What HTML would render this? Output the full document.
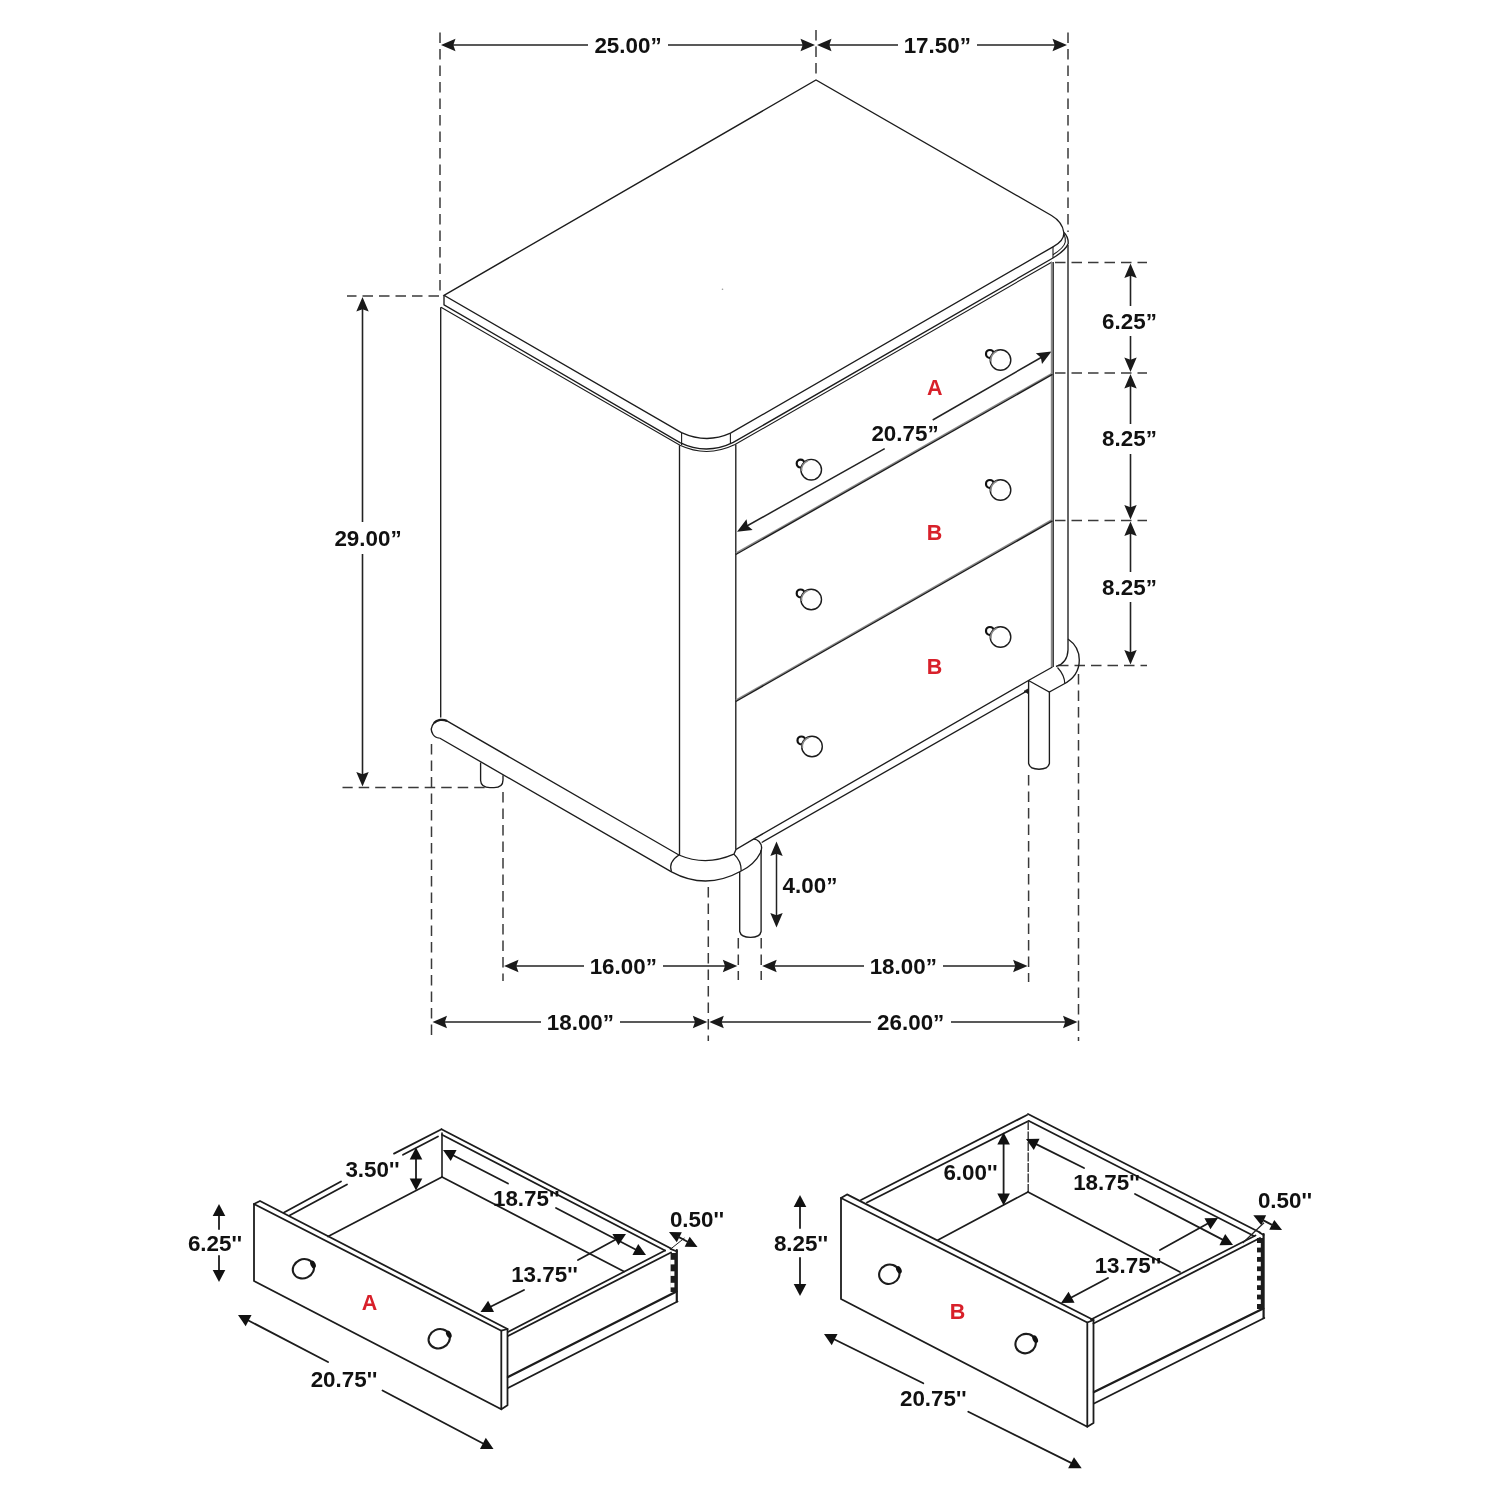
<!DOCTYPE html>
<html><head><meta charset="utf-8">
<title>Nightstand dimensions</title>
<style>
html,body{margin:0;padding:0;background:#fff;}
body{width:1500px;height:1500px;overflow:hidden;}
svg{display:block;}
text{font-family:"Liberation Sans",sans-serif;font-weight:bold;}
</style></head><body>
<svg width="1500" height="1500" viewBox="0 0 1500 1500">
<rect width="1500" height="1500" fill="#ffffff"/>
<line x1="440" y1="32.5" x2="440" y2="296" stroke="#3a3a3a" stroke-width="1.5" stroke-dasharray="10.5 6"/>
<line x1="816" y1="30" x2="816" y2="76" stroke="#3a3a3a" stroke-width="1.5" stroke-dasharray="10.5 6"/>
<line x1="1068" y1="32.5" x2="1068" y2="232" stroke="#3a3a3a" stroke-width="1.5" stroke-dasharray="10.5 6"/>
<line x1="439" y1="296" x2="347" y2="296" stroke="#3a3a3a" stroke-width="1.5" stroke-dasharray="10.5 6"/>
<line x1="1055" y1="262.5" x2="1147" y2="262.5" stroke="#3a3a3a" stroke-width="1.5" stroke-dasharray="10.5 6"/>
<line x1="1055" y1="373" x2="1147" y2="373" stroke="#3a3a3a" stroke-width="1.5" stroke-dasharray="10.5 6"/>
<line x1="1055" y1="520.5" x2="1147" y2="520.5" stroke="#3a3a3a" stroke-width="1.5" stroke-dasharray="10.5 6"/>
<line x1="1058" y1="665.5" x2="1147" y2="665.5" stroke="#3a3a3a" stroke-width="1.5" stroke-dasharray="10.5 6"/>
<line x1="484.7" y1="787.5" x2="342.5" y2="787.5" stroke="#3a3a3a" stroke-width="1.5" stroke-dasharray="10.5 6"/>
<line x1="431.5" y1="744" x2="431.5" y2="1041" stroke="#3a3a3a" stroke-width="1.5" stroke-dasharray="10.5 6"/>
<line x1="503" y1="792" x2="503" y2="981" stroke="#3a3a3a" stroke-width="1.5" stroke-dasharray="10.5 6"/>
<line x1="708.3" y1="887" x2="708.3" y2="1041" stroke="#3a3a3a" stroke-width="1.5" stroke-dasharray="10.5 6"/>
<line x1="738.3" y1="938" x2="738.3" y2="980" stroke="#3a3a3a" stroke-width="1.5" stroke-dasharray="10.5 6"/>
<line x1="761.2" y1="938" x2="761.2" y2="980" stroke="#3a3a3a" stroke-width="1.5" stroke-dasharray="10.5 6"/>
<line x1="1028.6" y1="775" x2="1028.6" y2="982" stroke="#3a3a3a" stroke-width="1.5" stroke-dasharray="10.5 6"/>
<line x1="1078.5" y1="674" x2="1078.5" y2="1041" stroke="#3a3a3a" stroke-width="1.5" stroke-dasharray="10.5 6"/>
<line x1="450" y1="45" x2="588" y2="45" stroke="#222" stroke-width="1.6" />
<line x1="668" y1="45" x2="806" y2="45" stroke="#222" stroke-width="1.6" />
<polygon points="441.00,45.00 455.50,51.20 453.30,45.00 455.50,38.80" fill="#1a1a1a"/>
<polygon points="815.00,45.00 800.50,38.80 802.70,45.00 800.50,51.20" fill="#1a1a1a"/>
<line x1="826" y1="45" x2="898" y2="45" stroke="#222" stroke-width="1.6" />
<line x1="977" y1="45" x2="1058" y2="45" stroke="#222" stroke-width="1.6" />
<polygon points="817.00,45.00 831.50,51.20 829.30,45.00 831.50,38.80" fill="#1a1a1a"/>
<polygon points="1067.00,45.00 1052.50,38.80 1054.70,45.00 1052.50,51.20" fill="#1a1a1a"/>
<line x1="513" y1="966" x2="584" y2="966" stroke="#222" stroke-width="1.6" />
<line x1="663" y1="966" x2="728.3" y2="966" stroke="#222" stroke-width="1.6" />
<polygon points="504.00,966.00 518.50,972.20 516.30,966.00 518.50,959.80" fill="#1a1a1a"/>
<polygon points="737.30,966.00 722.80,959.80 725.00,966.00 722.80,972.20" fill="#1a1a1a"/>
<line x1="771.2" y1="966" x2="864" y2="966" stroke="#222" stroke-width="1.6" />
<line x1="943" y1="966" x2="1018.5999999999999" y2="966" stroke="#222" stroke-width="1.6" />
<polygon points="762.20,966.00 776.70,972.20 774.50,966.00 776.70,959.80" fill="#1a1a1a"/>
<polygon points="1027.60,966.00 1013.10,959.80 1015.30,966.00 1013.10,972.20" fill="#1a1a1a"/>
<line x1="441.5" y1="1022" x2="541" y2="1022" stroke="#222" stroke-width="1.6" />
<line x1="620" y1="1022" x2="698.3" y2="1022" stroke="#222" stroke-width="1.6" />
<polygon points="432.50,1022.00 447.00,1028.20 444.80,1022.00 447.00,1015.80" fill="#1a1a1a"/>
<polygon points="707.30,1022.00 692.80,1015.80 695.00,1022.00 692.80,1028.20" fill="#1a1a1a"/>
<line x1="718.3" y1="1022" x2="871" y2="1022" stroke="#222" stroke-width="1.6" />
<line x1="951" y1="1022" x2="1068.5" y2="1022" stroke="#222" stroke-width="1.6" />
<polygon points="709.30,1022.00 723.80,1028.20 721.60,1022.00 723.80,1015.80" fill="#1a1a1a"/>
<polygon points="1077.50,1022.00 1063.00,1015.80 1065.20,1022.00 1063.00,1028.20" fill="#1a1a1a"/>
<line x1="362.5" y1="306" x2="362.5" y2="522" stroke="#222" stroke-width="1.6" />
<line x1="362.5" y1="554" x2="362.5" y2="777.5" stroke="#222" stroke-width="1.6" />
<polygon points="362.50,297.00 356.30,311.50 362.50,309.30 368.70,311.50" fill="#1a1a1a"/>
<polygon points="362.50,786.50 368.70,772.00 362.50,774.20 356.30,772.00" fill="#1a1a1a"/>
<line x1="1130.5" y1="272.5" x2="1130.5" y2="306" stroke="#222" stroke-width="1.6" />
<line x1="1130.5" y1="336" x2="1130.5" y2="363" stroke="#222" stroke-width="1.6" />
<polygon points="1130.50,263.50 1124.30,278.00 1130.50,275.80 1136.70,278.00" fill="#1a1a1a"/>
<polygon points="1130.50,372.00 1136.70,357.50 1130.50,359.70 1124.30,357.50" fill="#1a1a1a"/>
<line x1="1130.5" y1="383" x2="1130.5" y2="424" stroke="#222" stroke-width="1.6" />
<line x1="1130.5" y1="454" x2="1130.5" y2="510.5" stroke="#222" stroke-width="1.6" />
<polygon points="1130.50,374.00 1124.30,388.50 1130.50,386.30 1136.70,388.50" fill="#1a1a1a"/>
<polygon points="1130.50,519.50 1136.70,505.00 1130.50,507.20 1124.30,505.00" fill="#1a1a1a"/>
<line x1="1130.5" y1="530.5" x2="1130.5" y2="572" stroke="#222" stroke-width="1.6" />
<line x1="1130.5" y1="602" x2="1130.5" y2="655.5" stroke="#222" stroke-width="1.6" />
<polygon points="1130.50,521.50 1124.30,536.00 1130.50,533.80 1136.70,536.00" fill="#1a1a1a"/>
<polygon points="1130.50,664.50 1136.70,650.00 1130.50,652.20 1124.30,650.00" fill="#1a1a1a"/>
<line x1="776.5" y1="852" x2="776.5" y2="918" stroke="#222" stroke-width="1.5" />
<polygon points="776.50,841.50 770.30,856.00 776.50,853.80 782.70,856.00" fill="#1a1a1a"/>
<polygon points="776.50,927.50 782.70,913.00 776.50,915.20 770.30,913.00" fill="#1a1a1a"/>
<line x1="746" y1="526.5" x2="884.7" y2="448.7" stroke="#222" stroke-width="1.5" />
<line x1="932.7" y1="420" x2="1042" y2="357" stroke="#222" stroke-width="1.5" />
<polygon points="737.00,531.80 752.66,529.97 747.67,525.69 746.50,519.21" fill="#1a1a1a"/>
<polygon points="1051.50,351.50 1035.84,353.33 1040.83,357.61 1042.00,364.09" fill="#1a1a1a"/>
<circle cx="722.5" cy="289.3" r="0.8" fill="#999"/>
<path d="M444,295.3 L816,80 L1051.5,215.5 Q1062.5,222 1063.8,232.5 Q1064.5,240.5 1053,246.8 L730.5,433.2 Q706.5,444 681.5,432.6 Z" stroke="#1c1c1c" stroke-width="1.35" fill="none" />
<path d="M444,295.3 L444,304.8 L680,442.6 Q706.5,455.5 733.3,442.4 L1053,258 Q1066,250 1068.2,243.5 Q1068.5,237 1064,232.5" stroke="#1c1c1c" stroke-width="1.35" fill="none" />
<path d="M1053,254.7 Q1064,248 1065.3,242 Q1065.6,237.5 1064,234" stroke="#1c1c1c" stroke-width="1.1" fill="none" />
<path d="M441,307.2 L680,445.3 Q707,458 735,444.6 L1052,262" stroke="#1c1c1c" stroke-width="1.1" fill="none" />
<line x1="681.6" y1="432.6" x2="681.6" y2="445" stroke="#1c1c1c" stroke-width="1.1" />
<line x1="730.4" y1="433.2" x2="730.4" y2="443.5" stroke="#1c1c1c" stroke-width="1.1" />
<line x1="1053" y1="246.8" x2="1053" y2="258" stroke="#1c1c1c" stroke-width="1.1" />
<line x1="440.7" y1="307.2" x2="440.7" y2="717.5" stroke="#1c1c1c" stroke-width="1.35" />
<line x1="679.5" y1="445.3" x2="679.5" y2="855" stroke="#1c1c1c" stroke-width="1.35" />
<line x1="735.8" y1="444.6" x2="735.8" y2="849.5" stroke="#1c1c1c" stroke-width="1.35" />
<path d="M1068,245 L1068,650 Q1067.5,663 1056,666.5" stroke="#1c1c1c" stroke-width="1.35" fill="none" />
<line x1="1051.6" y1="262" x2="1051.6" y2="667" stroke="#8a8a8a" stroke-width="1.6" />
<line x1="1053.2" y1="262" x2="1053.2" y2="667" stroke="#1c1c1c" stroke-width="1.3" />
<line x1="735.8" y1="553.2" x2="1052.5" y2="373.09999999999997" stroke="#8a8a8a" stroke-width="1.5" />
<line x1="735.8" y1="554.5" x2="1052.5" y2="374.4" stroke="#1c1c1c" stroke-width="1.4" />
<line x1="735.8" y1="700.2" x2="1052.5" y2="519.5" stroke="#8a8a8a" stroke-width="1.5" />
<line x1="735.8" y1="701.5" x2="1052.5" y2="520.8" stroke="#1c1c1c" stroke-width="1.4" />
<circle cx="989.9" cy="353.9" r="3.9" fill="#fff" stroke="#111" stroke-width="2.2"/>
<circle cx="1000.5" cy="360" r="10.3" fill="#fff" stroke="#1c1c1c" stroke-width="1.4"/>
<path d="M990.9,361.5 A9.4,9.4 0 0 1 997.3,351.1" fill="none" stroke="#888" stroke-width="1.6"/>
<circle cx="800.6" cy="463.59999999999997" r="3.9" fill="#fff" stroke="#111" stroke-width="2.2"/>
<circle cx="811.2" cy="469.7" r="10.3" fill="#fff" stroke="#1c1c1c" stroke-width="1.4"/>
<path d="M801.6,471.2 A9.4,9.4 0 0 1 808.0,460.8" fill="none" stroke="#888" stroke-width="1.6"/>
<circle cx="989.9" cy="483.9" r="3.9" fill="#fff" stroke="#111" stroke-width="2.2"/>
<circle cx="1000.5" cy="490" r="10.3" fill="#fff" stroke="#1c1c1c" stroke-width="1.4"/>
<path d="M990.9,491.5 A9.4,9.4 0 0 1 997.3,481.1" fill="none" stroke="#888" stroke-width="1.6"/>
<circle cx="800.6" cy="593.4" r="3.9" fill="#fff" stroke="#111" stroke-width="2.2"/>
<circle cx="811.2" cy="599.5" r="10.3" fill="#fff" stroke="#1c1c1c" stroke-width="1.4"/>
<path d="M801.6,601.0 A9.4,9.4 0 0 1 808.0,590.6" fill="none" stroke="#888" stroke-width="1.6"/>
<circle cx="989.9" cy="630.9" r="3.9" fill="#fff" stroke="#111" stroke-width="2.2"/>
<circle cx="1000.5" cy="637" r="10.3" fill="#fff" stroke="#1c1c1c" stroke-width="1.4"/>
<path d="M990.9,638.5 A9.4,9.4 0 0 1 997.3,628.1" fill="none" stroke="#888" stroke-width="1.6"/>
<circle cx="801.4" cy="740.4" r="3.9" fill="#fff" stroke="#111" stroke-width="2.2"/>
<circle cx="812" cy="746.5" r="10.3" fill="#fff" stroke="#1c1c1c" stroke-width="1.4"/>
<path d="M802.4,748.0 A9.4,9.4 0 0 1 808.8,737.6" fill="none" stroke="#888" stroke-width="1.6"/>
<path d="M447,721 C443,719 437,719.5 434,723 C431,726.5 430.8,731 433,734.5 C434.5,737 437,738 439.5,738.2" stroke="#1c1c1c" stroke-width="1.35" fill="none" />
<path d="M447,721 C443,719 437,719.5 434,723" stroke="#1c1c1c" stroke-width="2.2" fill="none" />
<path d="M446,720.4 L678.9,855 Q706,866.5 733.9,854.2 L736,849.5 L753.5,839.2 L1029.3,680 L1052.5,667" stroke="#1c1c1c" stroke-width="1.35" fill="none" />
<path d="M439.5,738 L671.5,871.8 Q706,890.5 741.2,871 Q754.5,864.5 760.3,853 Q763.5,846 759,841.5 Q756.5,839 753.5,839.2" stroke="#1c1c1c" stroke-width="1.35" fill="none" />
<path d="M679,855 Q668,862 671.5,871.8" stroke="#1c1c1c" stroke-width="1.2" fill="none" />
<path d="M734,854.2 Q741.5,861 741.2,871" stroke="#1c1c1c" stroke-width="1.2" fill="none" />
<line x1="761.7" y1="842.5" x2="1028" y2="690.3" stroke="#1c1c1c" stroke-width="1.35" />
<path d="M1068,639 C1076,644.5 1079.3,652 1079.3,660 C1079.3,672 1072,680 1063,684.5 L1049.3,692 L1028.5,680.5" stroke="#1c1c1c" stroke-width="1.35" fill="none" />
<path d="M1057.5,667.5 Q1064.5,675 1064.8,683.5" stroke="#1c1c1c" stroke-width="1.2" fill="none" />
<path d="M480.6,762.5 L480.6,780.5 Q481,787.6 490,787.6 L494,787.6 Q503,787.6 503,780 L503,775.3" stroke="#1c1c1c" stroke-width="1.35" fill="none" />
<path d="M739.7,872 L739.7,931.5 Q741,937.3 750.5,937.3 Q760,937.3 761.1,931.5 L761.1,850" stroke="#1c1c1c" stroke-width="1.35" fill="none" />
<path d="M1028.6,680.5 L1028.6,763.5 Q1030,769.2 1039,769.2 Q1048,769.2 1049.4,763.5 L1049.4,692" stroke="#1c1c1c" stroke-width="1.35" fill="none" />
<path d="M1024,691.2 L1028,689 L1028,693.4 Z" stroke="#1c1c1c" stroke-width="0.8" fill="#1c1c1c" />
<path d="M254,1204 L501.3,1330.7 L501.3,1409.3 L254,1281 Z" stroke="#1c1c1c" stroke-width="1.8" fill="none" stroke-linejoin="round" stroke-linecap="round"/>
<path d="M254,1204 L260,1201 L507.5,1329 L501.3,1330.7" stroke="#1c1c1c" stroke-width="1.8" fill="none" stroke-linejoin="round" stroke-linecap="round"/>
<path d="M507.5,1329 L507.5,1405.3 L501.3,1409.3" stroke="#1c1c1c" stroke-width="1.8" fill="none" stroke-linejoin="round" stroke-linecap="round"/>
<line x1="284" y1="1212.5" x2="341" y2="1181.5" stroke="#1c1c1c" stroke-width="1.8" stroke-linecap="round"/>
<line x1="394" y1="1153.6" x2="441.5" y2="1129.2" stroke="#1c1c1c" stroke-width="1.8" stroke-linecap="round"/>
<line x1="289.5" y1="1215.5" x2="347" y2="1184.5" stroke="#1c1c1c" stroke-width="1.8" stroke-linecap="round"/>
<line x1="403" y1="1154.8" x2="438" y2="1136.5" stroke="#1c1c1c" stroke-width="1.8" stroke-linecap="round"/>
<line x1="441.5" y1="1129.2" x2="671" y2="1248.5" stroke="#1c1c1c" stroke-width="1.8" stroke-linecap="round"/>
<line x1="442" y1="1134.8" x2="665" y2="1250.5" stroke="#1c1c1c" stroke-width="1.8" stroke-linecap="round"/>
<line x1="442" y1="1133" x2="442" y2="1177" stroke="#1c1c1c" stroke-width="1.6" stroke-linecap="round"/>
<line x1="442" y1="1177" x2="328" y2="1236.5" stroke="#1c1c1c" stroke-width="1.7" stroke-linecap="round"/>
<line x1="442" y1="1177" x2="624" y2="1271.5" stroke="#1c1c1c" stroke-width="1.7" stroke-linecap="round"/>
<line x1="665" y1="1250.5" x2="508" y2="1332" stroke="#1c1c1c" stroke-width="1.7" stroke-linecap="round"/>
<line x1="671" y1="1252.5" x2="508" y2="1336" stroke="#1c1c1c" stroke-width="1.8" stroke-linecap="round"/>
<line x1="676.5" y1="1291.5" x2="508" y2="1377" stroke="#1c1c1c" stroke-width="2.4" stroke-linecap="round"/>
<line x1="677.5" y1="1301.5" x2="508" y2="1388" stroke="#1c1c1c" stroke-width="1.8" stroke-linecap="round"/>
<line x1="676.8" y1="1250" x2="676.8" y2="1301.5" stroke="#1c1c1c" stroke-width="2.2" stroke-linecap="round"/>
<rect x="670.6" y="1253" width="6.2" height="39" fill="#1c1c1c"/>
<rect x="670.2" y="1259.8" width="4.2" height="4.6" fill="#fff"/>
<rect x="670.2" y="1271.3" width="4.2" height="4.6" fill="#fff"/>
<rect x="670.2" y="1282.8" width="4.2" height="4.6" fill="#fff"/>
<line x1="670.5" y1="1248.8" x2="677" y2="1251.5" stroke="#1c1c1c" stroke-width="1.8" stroke-linecap="round"/>
<ellipse cx="303.4" cy="1268.8" rx="10.8" ry="9.5" transform="rotate(-25 303.4 1268.8)" fill="#fff" stroke="#1c1c1c" stroke-width="2.1"/>
<ellipse cx="313.0" cy="1264.3999999999999" rx="2.5" ry="4" transform="rotate(-25 313.0 1264.3999999999999)" fill="#111"/>
<ellipse cx="439.2" cy="1338.7" rx="10.8" ry="9.5" transform="rotate(-25 439.2 1338.7)" fill="#fff" stroke="#1c1c1c" stroke-width="2.1"/>
<ellipse cx="448.8" cy="1334.3" rx="2.5" ry="4" transform="rotate(-25 448.8 1334.3)" fill="#111"/>
<line x1="219" y1="1212" x2="219" y2="1229" stroke="#1c1c1c" stroke-width="1.8" stroke-linecap="round"/>
<line x1="219" y1="1256" x2="219" y2="1274" stroke="#1c1c1c" stroke-width="1.8" stroke-linecap="round"/>
<polygon points="219.00,1204.00 212.70,1216.00 219.00,1216.00 225.30,1216.00" fill="#111"/>
<polygon points="219.00,1282.00 225.30,1270.00 219.00,1270.00 212.70,1270.00" fill="#111"/>
<line x1="416" y1="1156" x2="416" y2="1182" stroke="#1c1c1c" stroke-width="1.8" stroke-linecap="round"/>
<polygon points="416.00,1147.50 409.70,1159.50 416.00,1159.50 422.30,1159.50" fill="#111"/>
<polygon points="416.00,1190.50 422.30,1178.50 416.00,1178.50 409.70,1178.50" fill="#111"/>
<line x1="450.1057411452476" y1="1153.6753833509902" x2="508" y2="1183.5" stroke="#1c1c1c" stroke-width="1.8" stroke-linecap="round"/>
<line x1="556" y1="1208" x2="638.8942588547524" y2="1251.3246166490098" stroke="#1c1c1c" stroke-width="1.8" stroke-linecap="round"/>
<polygon points="443.00,1150.00 450.76,1161.11 453.66,1155.51 456.55,1149.92" fill="#111"/>
<polygon points="646.00,1255.00 638.24,1243.89 635.34,1249.49 632.45,1255.08" fill="#111"/>
<line x1="618.9492411264127" y1="1237.7797882621292" x2="578" y2="1260" stroke="#1c1c1c" stroke-width="1.8" stroke-linecap="round"/>
<line x1="524" y1="1290" x2="487.55075887358726" y2="1308.2202117378708" stroke="#1c1c1c" stroke-width="1.8" stroke-linecap="round"/>
<polygon points="626.00,1234.00 612.45,1234.12 615.42,1239.67 618.40,1245.22" fill="#111"/>
<polygon points="480.50,1312.00 494.05,1311.88 491.08,1306.33 488.10,1300.78" fill="#111"/>
<line x1="245.08475177189962" y1="1318.7156819469062" x2="328" y2="1362" stroke="#1c1c1c" stroke-width="1.8" stroke-linecap="round"/>
<line x1="382.5" y1="1390.5" x2="486.4152482281004" y2="1445.2843180530938" stroke="#1c1c1c" stroke-width="1.8" stroke-linecap="round"/>
<polygon points="238.00,1315.00 245.70,1326.15 248.63,1320.57 251.55,1314.99" fill="#111"/>
<polygon points="493.50,1449.00 485.80,1437.85 482.87,1443.43 479.95,1449.01" fill="#111"/>
<polygon points="669.00,1232.00 676.84,1242.17 679.34,1237.27 681.83,1232.37" fill="#111"/>
<polygon points="697.50,1247.00 689.66,1236.83 687.16,1241.73 684.67,1246.63" fill="#111"/>
<line x1="678" y1="1236.6" x2="688.5" y2="1242.2" stroke="#1c1c1c" stroke-width="1.8" stroke-linecap="round"/>
<line x1="670" y1="1249.5" x2="684.5" y2="1238" stroke="#222" stroke-width="1" />
<path d="M841,1198 L1087.3,1322.5 L1087.3,1426.7 L841,1299 Z" stroke="#1c1c1c" stroke-width="1.8" fill="none" stroke-linejoin="round" stroke-linecap="round"/>
<path d="M841,1198 L847,1194.4 L1093.5,1320 L1087.3,1322.5" stroke="#1c1c1c" stroke-width="1.8" fill="none" stroke-linejoin="round" stroke-linecap="round"/>
<path d="M1093.5,1320 L1093.5,1423 L1087.3,1426.7" stroke="#1c1c1c" stroke-width="1.8" fill="none" stroke-linejoin="round" stroke-linecap="round"/>
<line x1="861" y1="1200" x2="1027" y2="1115" stroke="#1c1c1c" stroke-width="1.8" stroke-linecap="round"/>
<line x1="867" y1="1202.5" x2="1028.5" y2="1121" stroke="#1c1c1c" stroke-width="1.8" stroke-linecap="round"/>
<line x1="1028" y1="1114" x2="1260" y2="1232.5" stroke="#1c1c1c" stroke-width="1.8" stroke-linecap="round"/>
<line x1="1029" y1="1121" x2="1254" y2="1236" stroke="#1c1c1c" stroke-width="1.8" stroke-linecap="round"/>
<line x1="1028.2" y1="1121" x2="1028.2" y2="1192" stroke="#333" stroke-width="1.4" stroke-dasharray="9 1.5"/>
<line x1="1028" y1="1192" x2="938" y2="1240" stroke="#1c1c1c" stroke-width="1.7" stroke-linecap="round"/>
<line x1="1028" y1="1192" x2="1180" y2="1272" stroke="#1c1c1c" stroke-width="1.7" stroke-linecap="round"/>
<line x1="1255.5" y1="1235.5" x2="1091" y2="1319.5" stroke="#1c1c1c" stroke-width="1.7" stroke-linecap="round"/>
<line x1="1260" y1="1238" x2="1093.5" y2="1323.5" stroke="#1c1c1c" stroke-width="1.8" stroke-linecap="round"/>
<line x1="1263.3" y1="1308.5" x2="1094" y2="1392" stroke="#1c1c1c" stroke-width="2.4" stroke-linecap="round"/>
<line x1="1264.3" y1="1318" x2="1094" y2="1403.5" stroke="#1c1c1c" stroke-width="1.8" stroke-linecap="round"/>
<line x1="1263.6" y1="1234" x2="1263.6" y2="1318" stroke="#1c1c1c" stroke-width="2.2" stroke-linecap="round"/>
<rect x="1257" y="1238" width="6.6" height="71" fill="#1c1c1c"/>
<rect x="1256.6" y="1243.0" width="4.2" height="4.6" fill="#fff"/>
<rect x="1256.6" y="1252.4" width="4.2" height="4.6" fill="#fff"/>
<rect x="1256.6" y="1261.8" width="4.2" height="4.6" fill="#fff"/>
<rect x="1256.6" y="1271.2" width="4.2" height="4.6" fill="#fff"/>
<rect x="1256.6" y="1280.6" width="4.2" height="4.6" fill="#fff"/>
<rect x="1256.6" y="1290.0" width="4.2" height="4.6" fill="#fff"/>
<rect x="1256.6" y="1299.4" width="4.2" height="4.6" fill="#fff"/>
<line x1="1259.5" y1="1232.5" x2="1263.6" y2="1235" stroke="#1c1c1c" stroke-width="1.8" stroke-linecap="round"/>
<ellipse cx="889.3" cy="1274.2" rx="10.3" ry="9.6" transform="rotate(-25 889.3 1274.2)" fill="#fff" stroke="#1c1c1c" stroke-width="2.1"/>
<ellipse cx="898.9" cy="1269.8" rx="2.5" ry="4" transform="rotate(-25 898.9 1269.8)" fill="#111"/>
<ellipse cx="1025.6" cy="1343.6" rx="10.3" ry="9.6" transform="rotate(-25 1025.6 1343.6)" fill="#fff" stroke="#1c1c1c" stroke-width="2.1"/>
<ellipse cx="1035.1999999999998" cy="1339.1999999999998" rx="2.5" ry="4" transform="rotate(-25 1035.1999999999998 1339.1999999999998)" fill="#111"/>
<line x1="800" y1="1203" x2="800" y2="1228" stroke="#1c1c1c" stroke-width="1.8" stroke-linecap="round"/>
<line x1="800" y1="1258" x2="800" y2="1288" stroke="#1c1c1c" stroke-width="1.8" stroke-linecap="round"/>
<polygon points="800.00,1195.00 793.70,1207.00 800.00,1207.00 806.30,1207.00" fill="#111"/>
<polygon points="800.00,1296.00 806.30,1284.00 800.00,1284.00 793.70,1284.00" fill="#111"/>
<line x1="1003.6" y1="1141" x2="1003.6" y2="1197" stroke="#1c1c1c" stroke-width="1.8" stroke-linecap="round"/>
<polygon points="1003.60,1132.50 997.30,1144.50 1003.60,1144.50 1009.90,1144.50" fill="#111"/>
<polygon points="1003.60,1205.50 1009.90,1193.50 1003.60,1193.50 997.30,1193.50" fill="#111"/>
<line x1="1033.120687316015" y1="1142.6463422970896" x2="1084" y2="1168" stroke="#1c1c1c" stroke-width="1.8" stroke-linecap="round"/>
<line x1="1135" y1="1194" x2="1225.879312683985" y2="1241.3536577029104" stroke="#1c1c1c" stroke-width="1.8" stroke-linecap="round"/>
<polygon points="1026.00,1139.00 1033.81,1150.08 1036.68,1144.47 1039.55,1138.86" fill="#111"/>
<polygon points="1233.00,1245.00 1225.19,1233.92 1222.32,1239.53 1219.45,1245.14" fill="#111"/>
<line x1="1210.9648825021934" y1="1221.8088215752455" x2="1160" y2="1250" stroke="#1c1c1c" stroke-width="1.8" stroke-linecap="round"/>
<line x1="1108" y1="1278" x2="1068.0351174978066" y2="1299.1911784247545" stroke="#1c1c1c" stroke-width="1.8" stroke-linecap="round"/>
<polygon points="1218.00,1218.00 1204.45,1218.17 1207.45,1223.71 1210.45,1229.25" fill="#111"/>
<polygon points="1061.00,1303.00 1074.55,1302.83 1071.55,1297.29 1068.55,1291.75" fill="#111"/>
<line x1="831.0943960526979" y1="1337.6972347298306" x2="923.3" y2="1383.3" stroke="#1c1c1c" stroke-width="1.8" stroke-linecap="round"/>
<line x1="968.3" y1="1411.7" x2="1074.6056039473021" y2="1464.6027652701694" stroke="#1c1c1c" stroke-width="1.8" stroke-linecap="round"/>
<polygon points="824.00,1334.00 831.73,1345.13 834.64,1339.55 837.55,1333.96" fill="#111"/>
<polygon points="1081.70,1468.30 1073.97,1457.17 1071.06,1462.75 1068.15,1468.34" fill="#111"/>
<polygon points="1253.30,1215.20 1261.31,1225.23 1263.73,1220.29 1266.14,1215.34" fill="#111"/>
<polygon points="1282.10,1230.10 1274.26,1219.93 1271.76,1224.83 1269.27,1229.73" fill="#111"/>
<line x1="1262" y1="1219.6" x2="1273" y2="1225.4" stroke="#1c1c1c" stroke-width="1.8" stroke-linecap="round"/>
<line x1="1242.7" y1="1243" x2="1264" y2="1222.7" stroke="#222" stroke-width="1.2" />
<g style="filter:opacity(0.999)">
<text x="628" y="53.4" font-size="22.4" fill="#111" text-anchor="middle" >25.00”</text>
<text x="937.3" y="53.4" font-size="22.4" fill="#111" text-anchor="middle" >17.50”</text>
<text x="1129.5" y="329.1" font-size="22.4" fill="#111" text-anchor="middle" >6.25”</text>
<text x="1129.5" y="446.4" font-size="22.4" fill="#111" text-anchor="middle" >8.25”</text>
<text x="1129.5" y="595.0" font-size="22.4" fill="#111" text-anchor="middle" >8.25”</text>
<text x="368" y="545.9" font-size="22.4" fill="#111" text-anchor="middle" >29.00”</text>
<text x="905" y="441.4" font-size="22.4" fill="#111" text-anchor="middle" >20.75”</text>
<text x="810" y="892.6" font-size="22.4" fill="#111" text-anchor="middle" >4.00”</text>
<text x="623.3" y="973.7" font-size="22.4" fill="#111" text-anchor="middle" >16.00”</text>
<text x="580.4" y="1029.6" font-size="22.4" fill="#111" text-anchor="middle" >18.00”</text>
<text x="903.3" y="973.7" font-size="22.4" fill="#111" text-anchor="middle" >18.00”</text>
<text x="910.7" y="1029.6" font-size="22.4" fill="#111" text-anchor="middle" >26.00”</text>
<text x="934.8" y="395.2" font-size="21.5" fill="#d8202a" text-anchor="middle" >A</text>
<text x="934.4" y="540.4" font-size="21.5" fill="#d8202a" text-anchor="middle" >B</text>
<text x="934.6" y="673.8" font-size="21.5" fill="#d8202a" text-anchor="middle" >B</text>
<text x="372.5" y="1177.4" font-size="22.4" fill="#111" text-anchor="middle" >3.50''</text>
<text x="215" y="1251.4" font-size="22.4" fill="#111" text-anchor="middle" >6.25''</text>
<text x="526.3" y="1206.4" font-size="22.4" fill="#111" text-anchor="middle" >18.75''</text>
<text x="544.5" y="1282.4" font-size="22.4" fill="#111" text-anchor="middle" >13.75''</text>
<text x="697" y="1227.4" font-size="22.4" fill="#111" text-anchor="middle" >0.50''</text>
<text x="344" y="1387.4" font-size="22.4" fill="#111" text-anchor="middle" >20.75''</text>
<text x="369.6" y="1310.0" font-size="21.5" fill="#d8202a" text-anchor="middle" >A</text>
<text x="970.5" y="1180.4" font-size="22.4" fill="#111" text-anchor="middle" >6.00''</text>
<text x="801" y="1251.4" font-size="22.4" fill="#111" text-anchor="middle" >8.25''</text>
<text x="1106.5" y="1190.4" font-size="22.4" fill="#111" text-anchor="middle" >18.75''</text>
<text x="1128" y="1273.4" font-size="22.4" fill="#111" text-anchor="middle" >13.75''</text>
<text x="1285" y="1208.4" font-size="22.4" fill="#111" text-anchor="middle" >0.50''</text>
<text x="933.3" y="1406.4" font-size="22.4" fill="#111" text-anchor="middle" >20.75''</text>
<text x="957.6" y="1319.4" font-size="21.5" fill="#d8202a" text-anchor="middle" >B</text>
</g>
</svg>
</body></html>
